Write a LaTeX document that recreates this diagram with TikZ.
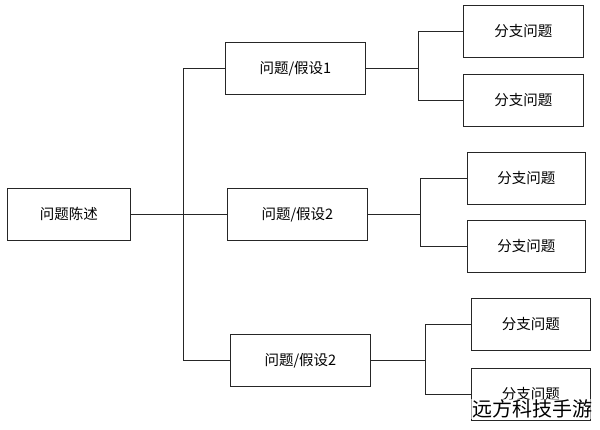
\documentclass[tikz,border=0pt]{standalone}
\usepackage{fontspec}
\newfontfamily\cjk{Noto Sans CJK SC}
\begin{document}
\begin{tikzpicture}[x=1pt,y=-1pt,
  box/.style={draw=black!85,line width=0.8pt,minimum height=52pt,anchor=north west,inner sep=0pt,font=\cjk\fontsize{14.5}{16}\selectfont},
  ln/.style={draw=black!85,line width=0.8pt}]
\useasboundingbox (0,0) rectangle (600,429);
\fill[white] (0,0) rectangle (600,429);
\node[box,minimum width=123pt] (r) at (7,188) {问题陈述};
\node[box,minimum width=140pt] (m1) at (225,42) {问题/假设1};
\node[box,minimum width=140pt] (m2) at (227,188) {问题/假设2};
\node[box,minimum width=140pt] (m3) at (230,334) {问题/假设2};
\node[box,minimum width=120pt] (l1) at (463,5) {分支问题};
\node[box,minimum width=120pt] (l2) at (463,74) {分支问题};
\node[box,minimum width=118pt] (l3) at (467,152) {分支问题};
\node[box,minimum width=118pt] (l4) at (467,220) {分支问题};
\node[box,minimum width=119pt] (l5) at (471,298) {分支问题};
\node[box,minimum width=119pt] (l6) at (471,368) {分支问题};
\coordinate (j) at (r.east -| 183,0);
\draw[ln] (r.east) -- (m2.west);
\draw[ln] (j) |- (m1.west);
\draw[ln] (j) |- (m3.west);
\foreach \m/\a/\b/\x in {m1/l1/l2/418,m2/l3/l4/420,m3/l5/l6/425}{
  \draw[ln] (\m.east) -- (\x,0 |- \m.east) coordinate (c\m);
  \draw[ln] (c\m) |- (\a.west);
  \draw[ln] (c\m) |- (\b.west);
}
\node[font=\cjk\fontsize{20}{22}\selectfont,fill=white,fill opacity=0.6,text opacity=1,inner sep=1pt] (wm) at (532,409) {远方科技手游};
\end{tikzpicture}
\end{document}
